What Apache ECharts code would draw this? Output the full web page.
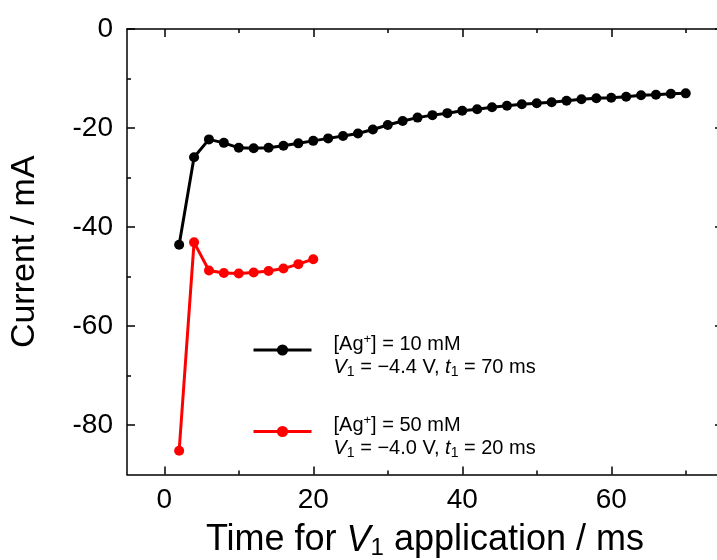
<!DOCTYPE html>
<html>
<head>
<meta charset="utf-8">
<script src="https://cdn.jsdelivr.net/npm/echarts@6/dist/echarts.min.js"></script>
<style>html,body{margin:0;padding:0;background:#fff;}#c{width:717px;height:560px;}</style>
</head>
<body>
<div id="c"></div>
<script>
// Data
const timeBlack = [2,4,6,8,10,12,14,16,18,20,22,24,26,28,30,32,34,36,38,40,42,44,46,48,50,52,54,56,58,60,62,64,66,68,70];
const currentBlack = [-43.6,-25.9,-22.3,-23.0,-24.0,-24.1,-24.0,-23.6,-23.1,-22.6,-22.1,-21.6,-21.1,-20.3,-19.4,-18.6,-17.9,-17.4,-17.0,-16.5,-16.2,-15.8,-15.5,-15.2,-15.0,-14.8,-14.5,-14.2,-14.0,-13.9,-13.7,-13.4,-13.3,-13.1,-13.0];
const timeRed = [2,4,6,8,10,12,14,16,18,20];
const currentRed = [-85.2,-43.1,-48.8,-49.3,-49.4,-49.2,-48.9,-48.4,-47.5,-46.5];
const xMajorTicks = [0,20,40,60];
const xMinorTicks = [10,30,50,70];
const yMajorTicks = [0,-20,-40,-60,-80];
const yMinorTicks = [-10,-30,-50,-70];
const legendNames = ['black','red'];

const FONT = 'Liberation Sans, Arial, sans-serif';
const chart = echarts.init(document.getElementById('c'), null, {renderer:'canvas'});
const axisLine = {show:true, onZero:false, lineStyle:{color:'#000', width:1.5}};
function xAx(pos, ticks, len, labels, showLine){
  return {type:'value', position:pos, min:-5, max:75, gridIndex:0,
    axisLine: showLine ? axisLine : {show:false, onZero:false},
    splitLine:{show:false},
    axisTick:{show:true, inside:true, length:len, customValues:ticks, lineStyle:{color:'#000', width:1.5}},
    axisLabel: labels ? {show:true, customValues:ticks, fontSize:28, color:'#000', fontFamily:FONT, margin:12} : {show:false}
  };
}
function yAx(pos, ticks, len, labels, showLine){
  return {type:'value', position:pos, min:-90, max:0, gridIndex:0,
    axisLine: showLine ? axisLine : {show:false, onZero:false},
    splitLine:{show:false},
    axisTick:{show:true, inside:true, length:len, customValues:ticks, lineStyle:{color:'#000', width:1.5}},
    axisLabel: labels ? {show:true, customValues:ticks, fontSize:28, color:'#000', fontFamily:FONT, margin:14} : {show:false}
  };
}
const xAxes = [xAx('bottom', xMajorTicks, 8, true, true), xAx('bottom', xMinorTicks, 4, false, false),
               xAx('top', xMajorTicks, 8, false, true), xAx('top', xMinorTicks, 4, false, false)];
xAxes[0].name = '{n|Time for }{i|V}{s|1}{n| application / ms}';
xAxes[0].nameLocation = 'middle';
xAxes[0].nameGap = 46;
xAxes[0].nameTextStyle = {color:'#000', fontFamily:FONT, fontSize:36,
  rich:{n:{fontSize:36, fontFamily:FONT, color:'#000'}, i:{fontSize:36, fontStyle:'italic', fontFamily:FONT, color:'#000'}, s:{fontSize:24, fontFamily:FONT, color:'#000', padding:[16,0,0,0]}}};
const yAxes = [yAx('left', yMajorTicks, 8, true, true), yAx('left', yMinorTicks, 4, false, false),
               yAx('right', yMajorTicks, 8, false, true), yAx('right', yMinorTicks, 4, false, false)];
yAxes[0].name = 'Current / mA';
yAxes[0].nameLocation = 'middle';
yAxes[0].nameGap = 85;
yAxes[0].nameTextStyle = {color:'#000', fontFamily:FONT, fontSize:34};

const legendText = {
  black: '[Ag{sup|+}] = 10 mM\n{i|V}{sub|1} = −4.4 V, {i|t}{sub|1} = 70 ms',
  red: '[Ag{sup|+}] = 50 mM\n{i|V}{sub|1} = −4.0 V, {i|t}{sub|1} = 20 ms'
};

chart.setOption({
  animation:false,
  backgroundColor:'#fff',
  grid:{left:127, top:29, width:596, height:445.5, containLabel:false, outerBoundsMode:'none'},
  xAxis: xAxes,
  yAxis: yAxes,
  legend:{
    show:true, orient:'vertical', left:247, top:316.5, itemWidth:58, itemHeight:14, itemGap:24,
    data: legendNames,
    lineStyle:{width:3},
    formatter: function(n){ return legendText[n]; },
    textStyle:{fontSize:20, color:'#000', fontFamily:FONT, lineHeight:23, padding:[11,0,0,17],
      rich:{
        sup:{fontSize:13, fontFamily:FONT, color:'#000', padding:[0,0,10,0]},
        sub:{fontSize:14, fontFamily:FONT, color:'#000', padding:[10,0,0,0]},
        i:{fontSize:20, fontStyle:'italic', fontFamily:FONT, color:'#000'}
      }}
  },
  series:[
    {name:'black', type:'line', xAxisIndex:0, yAxisIndex:0, data: timeBlack.map((t,i)=>[t,currentBlack[i]]),
     symbol:'circle', symbolSize:10, itemStyle:{color:'#000'}, lineStyle:{color:'#000', width:3}},
    {name:'red', type:'line', xAxisIndex:0, yAxisIndex:0, data: timeRed.map((t,i)=>[t,currentRed[i]]),
     symbol:'circle', symbolSize:10, itemStyle:{color:'#ff0000'}, lineStyle:{color:'#ff0000', width:3}}
  ]
});
</script>
</body>
</html>
